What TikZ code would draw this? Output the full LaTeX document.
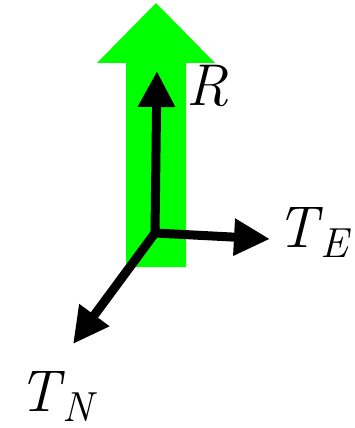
\documentclass[tikz,border=0pt]{standalone}
\usetikzlibrary{arrows.meta}

\newcommand{\vecname}[2]{\textit{#1}\kern-2pt\raisebox{-10pt}{\fontsize{42}{42}\selectfont\textit{#2}}}

\begin{document}
\begin{tikzpicture}[x=1pt, y=-1pt,
	every node/.style={font=\fontsize{59}{59}\selectfont, inner sep=0pt, anchor=base west},
	force/.style={line width=9pt, -{Triangle[length=36pt, width=35pt]}}]
	\useasboundingbox (0,0) rectangle (354,428);
	% big green arrow behind
	\fill[green] (126,267) -- (126,63) -- (97,63) -- (156,3) -- (215,63) -- (186,63) -- (186,267) -- cycle;
	% origin and tips
	\coordinate (O) at (155,233);
	\coordinate (Rtip) at (157,71);
	\coordinate (Etip) at (270,239);
	\coordinate (Ntip) at (73,344);
	\draw[force] (O) -- (Rtip);
	\draw[force] (O) -- (Etip);
	\draw[force] (O) -- (Ntip);
	% labels
	\node (R) at (186,105) {\textit{R}};
	\node (TE) at (276,247) {\vecname{T}{E}};
	\node (TN) at (18,411) {\vecname{T}{N}};
\end{tikzpicture}
\end{document}
